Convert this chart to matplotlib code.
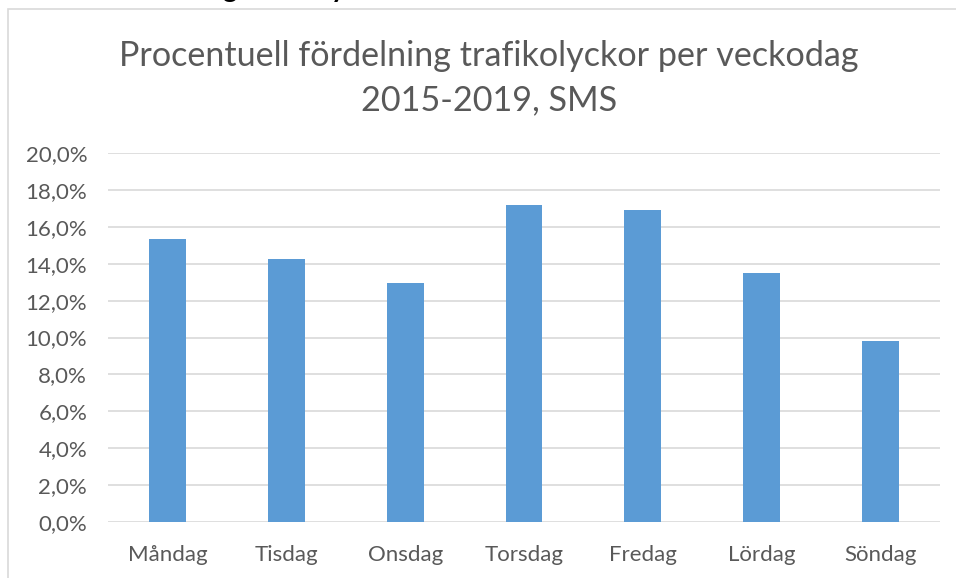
import matplotlib
matplotlib.use("Agg")
import matplotlib.pyplot as plt
from matplotlib.patches import Rectangle
from matplotlib.ticker import FuncFormatter

# weekday share of traffic accidents (%)
days = ["Måndag", "Tisdag", "Onsdag", "Torsdag", "Fredag", "Lördag", "Söndag"]
shares = [15.35, 14.25, 12.95, 17.2, 16.9, 13.5, 9.8]
yticks = [0, 2, 4, 6, 8, 10, 12, 14, 16, 18, 20]
title = "Procentuell fördelning trafikolyckor per veckodag\n2015-2019, SMS"

plt.rcParams["font.family"] = ["Lato", "DejaVu Sans"]
txt = "#595959"

fig = plt.figure(figsize=(9.56, 5.78), dpi=100)
ax = fig.add_axes([108/956, 56/578, 832/956, 369/578])

ax.bar(range(len(days)), shares, width=0.31, color="#5b9bd5", zorder=3)
ax.set_xlim(-0.5, len(days) - 0.5)
ax.set_ylim(0, 20)
ax.set_yticks(yticks)
ax.yaxis.set_major_formatter(FuncFormatter(lambda v, p: ("%.1f%%" % v).replace(".", ",")))
ax.set_xticks(range(len(days)))
ax.set_xticklabels(days)
ax.grid(axis="y", color="#d9d9d9", linewidth=1.2, zorder=0)
for s in ax.spines.values():
    s.set_visible(False)
ax.tick_params(length=0, labelsize=16, colors=txt)
ax.tick_params(axis="x", pad=16.5)
ax.tick_params(axis="y", pad=15)

fig.text(489/956, 1 - 78/578, title, ha="center", va="center",
         fontsize=24.6, color=txt, linespacing=1.45)

# chart frame
fig.patches.append(Rectangle((8/956, -0.05), 1.0, 1 - 9/578 + 0.05,
                             transform=fig.transFigure, fill=False,
                             edgecolor="#d9d9d9", linewidth=1.2))

# bits of the heading above the chart, cut off at the top edge
fig.text(230/956, 1 + 3/578, "g", ha="center", va="baseline",
         fontsize=20, fontweight="bold", color="black")
fig.text(338/956, 1 + 3/578, "y", ha="center", va="baseline",
         fontsize=20, fontweight="bold", color="black")

fig.savefig("out.png", dpi=100)
